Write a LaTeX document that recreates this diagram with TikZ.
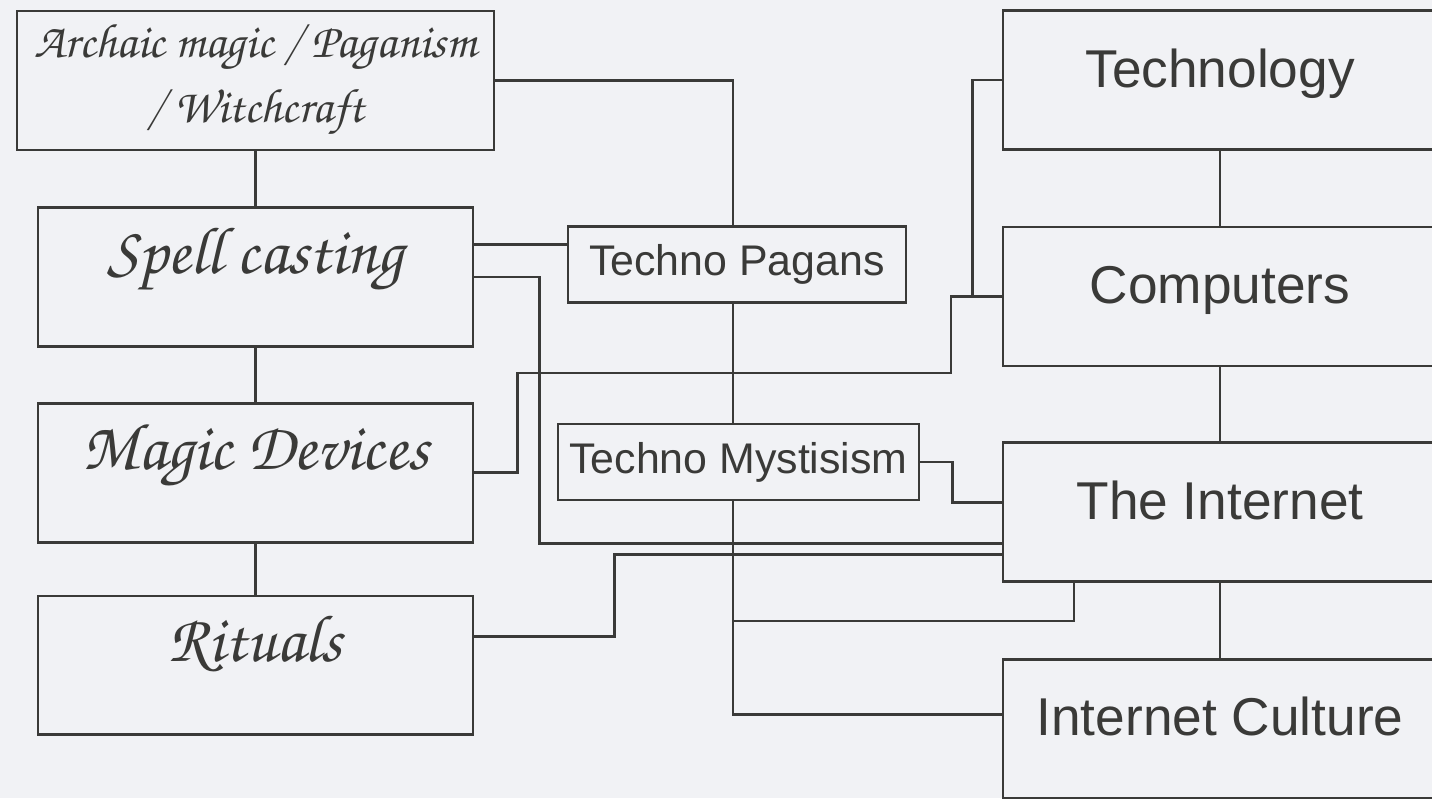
\documentclass[tikz,border=0pt]{standalone}
\usepackage[T1]{fontenc}
\usepackage{fontspec}
\usepackage{xcolor}
\usetikzlibrary{positioning}

\newfontfamily\helv{Liberation Sans}
\newcommand\scr{\fontencoding{T1}\fontfamily{pzc}\fontseries{mb}\fontshape{it}\selectfont}

\definecolor{ink}{RGB}{58,58,56}
\definecolor{paper}{RGB}{241,242,245}

\begin{document}
\begin{tikzpicture}[
  x=0.02cm, y=-0.02cm,
  lbox/.style={draw=ink, line width=1.5pt, inner sep=0pt, text=ink,
    minimum width=8.7cm, minimum height=2.78cm},
  sbox/.style={lbox, text height=1.32cm, text depth=1.46cm,
    font=\scr\fontsize{38}{44}\selectfont},
  rbox/.style={draw=ink, line width=1.5pt, inner sep=0pt, text=ink,
    minimum width=8.68cm, text height=1.53cm, text depth=1.25cm,
    font=\helv\fontsize{30.3}{36}\selectfont},
  mbox/.style={draw=ink, line width=1.5pt, text=ink, minimum height=1.52cm,
    font=\helv\fontsize{24.4}{28}\selectfont},
  link/.style={draw=ink, line width=1.5pt}
]
\useasboundingbox (0,0) rectangle (1432,798);
\fill[paper] (0,0) rectangle (1432,798);
\clip (0,0) rectangle (1432,798);

% left column
\node[lbox, minimum width=9.54cm, align=center,
  font=\scr\fontsize{27.5}{37}\selectfont] (arch) at (255.5,80.5)
  {Archaic magic / Paganism\\/ Witchcraft};
\node[sbox, below=1.1cm of arch] (spell) {Spell casting};
\node[sbox, below=1.08cm of spell] (magic) {Magic Devices};
\node[sbox, below=1.02cm of magic] (rituals) {Rituals};

% middle
\node[mbox, minimum width=6.76cm] (pagans) at (737,264.5) {Techno Pagans};
\node[mbox, minimum width=7.22cm] (myst) at (738.5,462) {Techno Mystisism};
\coordinate (trunk) at (733,0);

% right column
\node[rbox] (tech) at (1220,80) {Technology};
\node[rbox, below=1.5cm of tech] (comp) {Computers};
\node[rbox, below=1.48cm of comp] (net) {The Internet};
\node[rbox, below=1.5cm of net] (culture) {Internet Culture};

% links
\draw[link] (arch) -- (spell);
\draw[link] (spell) -- (magic);
\draw[link] (magic) -- (rituals);
\draw[link] (tech) -- (comp);
\draw[link] (comp) -- (net);
\draw[link] (net) -- (culture);
\draw[link] (arch.east) -| (trunk |- pagans.north);
\draw[link] (trunk |- pagans.south) -- (trunk |- myst.north);
\draw[link] (trunk |- myst.south) |- ([yshift=0.28cm]culture.west);
\draw[link] ([yshift=0.65cm]spell.east) -- ([yshift=0.65cm]spell.east -| pagans.west);
\draw[link] (spell.east) -- ++(65,0) |- ([yshift=-0.62cm]net.west);
\draw[link] (magic.east) -- ++(43,0) |- (951,373) |- (comp.west);
\draw[link] (tech.west) -- ++(-29,0) |- (comp.west);
\draw[link] (myst.east) -- ++(32,0) |- ([yshift=0.2cm]net.west);
\draw[link] ([yshift=0.57cm]rituals.east) -- ++(140,0) |- ([yshift=-0.84cm]net.west);
\draw[link] ([xshift=-2.92cm]net.south) -- ++(0,38) -- ++(-341,0);
\end{tikzpicture}
\end{document}
